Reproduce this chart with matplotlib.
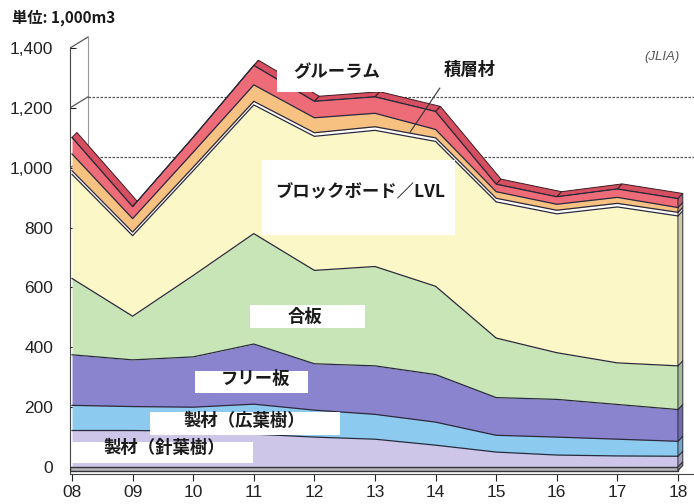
import numpy as np
import matplotlib.pyplot as plt
import matplotlib.colors as mcolors
from matplotlib.patches import Polygon, Rectangle

plt.rcParams['font.family'] = ['Liberation Sans', 'DejaVu Sans']
JP = ['Noto Sans CJK JP', 'DejaVu Sans']

# data (1,000 m3), bottom layer first
years = ['08', '09', '10', '11', '12', '13', '14', '15', '16', '17', '18']
softwood = [122, 122, 120, 110, 100, 93, 73, 50, 40, 37, 36]      # 製材(針葉樹)
hardwood = [84, 80, 80, 100, 90, 83, 77, 56, 60, 56, 50]          # 製材(広葉樹)
free_board = [169, 156, 168, 201, 155, 162, 159, 126, 126, 116, 106]
plywood = [255, 146, 272, 369, 312, 332, 295, 199, 156, 139, 146]
lvl = [348, 269, 350, 430, 448, 455, 484, 455, 464, 521, 501]
white_band = [12, 12, 12, 12, 12, 12, 12, 12, 12, 12, 12]
laminated = [56, 45, 50, 55, 50, 45, 28, 22, 20, 20, 16]          # 積層材
glulam = [55, 40, 50, 65, 55, 55, 60, 25, 25, 28, 30]             # グルーラム
yticks = [0, 200, 400, 600, 800, 1000, 1200, 1400]
grid_levels = [1000, 1200]

layers = [softwood, hardwood, free_board, plywood, lvl, white_band, laminated, glulam]
colors = ['#cdc6e9', '#8ccbef', '#8a84cf', '#c7e5b7', '#fbf7c6', '#ffffff', '#f6c181', '#ee6b78']

x = np.arange(len(years))
stack = np.cumsum(np.vstack(layers), axis=0)
base = np.vstack([np.zeros(len(x)), stack[:-1]])

fig = plt.figure(figsize=(6.94, 5.04), dpi=100)
ax = fig.add_axes([0.1009, 0.0603, 0.899, 0.880])
x0, x1 = -0.033, 10.264
ax.set_xlim(x0, x1)
ax.set_ylim(-22, 1460)

# offsets for the pseudo 3D look
dx, dy = 0.08, 17          # depth of the area block
wall_dx, wall_dy = 0.264, 37   # back wall

# back wall and dashed gridlines
ax.plot([x0, wall_dx], [1400, 1400 + wall_dy], color='#555', lw=0.9, zorder=1)
ax.plot([wall_dx, wall_dx], [wall_dy, 1400 + wall_dy], color='#999', lw=0.8, zorder=1)
for v in grid_levels:
    ax.plot([x0, wall_dx], [v, v + wall_dy], color='#555', lw=0.9, zorder=1)
    ax.plot([wall_dx, x1], [v + wall_dy, v + wall_dy], color='#555', lw=0.9,
            ls=(0, (2, 1.2)), zorder=1)

# top face of the stack
top = stack[-1]
for j in range(len(x) - 1):
    pts = [(x[j], top[j]), (x[j + 1], top[j + 1]),
           (x[j + 1] + dx, top[j + 1] + dy), (x[j] + dx, top[j] + dy)]
    ax.add_patch(Polygon(pts, closed=True, fc='#d64f60', ec='#3a1c22', lw=0.7, zorder=2))

# front faces
for lo, hi, c in zip(base, stack, colors):
    ax.fill_between(x, lo, hi, color=c, lw=0, zorder=3)
for t in stack:
    ax.plot(x, t, color='#2a2a3c', lw=0.9, zorder=4)

# right side face
xe = x[-1]
for lo, hi, c in zip(base[:, -1], stack[:, -1], colors):
    side = np.array(mcolors.to_rgb(c)) * 0.82
    pts = [(xe, lo), (xe, hi), (xe + dx, hi + dy), (xe + dx, lo + dy)]
    ax.add_patch(Polygon(pts, closed=True, fc=side, ec='#2a2a3c', lw=0.7, zorder=3))

# floor slab
ax.add_patch(Rectangle((x0, -12), xe - x0, 12, fc='#b5b4bf', ec='#333', lw=1.0, zorder=3))
ax.add_patch(Polygon([(xe, -12), (xe, 0), (xe + dx, dy), (xe + dx, dy - 12)], closed=True,
                     fc='#8f8e99', ec='#333', lw=0.8, zorder=3))

# axes styling
for s in ['top', 'right']:
    ax.spines[s].set_visible(False)
ax.spines['left'].set_bounds(-22, 1400)
ax.spines['left'].set_color('#444')
ax.spines['bottom'].set_color('#444')
ax.set_xticks(x)
ax.set_xticklabels(years)
ax.set_yticks(yticks)
ax.set_yticklabels([f'{v:,}' for v in yticks])
ax.tick_params(axis='x', direction='out', length=5, pad=3, labelsize=12.5, colors='#222')
ax.tick_params(axis='y', direction='in', length=4, pad=12, labelsize=12.5, colors='#222')

# series labels on white boxes
labels = [
    ('グルーラム', 4.37, 1318, (3.38, 1253, 1.95, 100)),
    ('ブロックボード／LVL', 4.75, 919, (3.14, 775, 3.18, 250)),
    ('合板', 3.84, 503, (2.94, 465, 1.89, 76)),
    ('フリー板', 3.02, 294, (2.03, 247, 1.86, 74)),
    ('製材（広葉樹）', 2.85, 155, (1.29, 107, 3.13, 77)),
    ('製材（針葉樹）', 1.53, 65, (0.0, 13, 2.99, 71)),
]
for text, tx, ty, (bx, by, bw, bh) in labels:
    ax.add_patch(Rectangle((bx, by), bw, bh, fc='white', ec='none', zorder=5))
    ax.text(tx, ty, text, family=JP, weight='bold', fontsize=12.5, color='#1a1a1a',
            ha='center', va='center', zorder=6)

ax.text(6.57, 1326, '積層材', family=JP, weight='bold', fontsize=12.5, color='#1a1a1a',
        ha='center', va='center', zorder=6)
ax.plot([6.07, 5.58], [1266, 1119], color='#333', lw=0.8, zorder=6)

fig.text(12 / 694, 1 - 18 / 504, '単位: 1,000m3', family=JP, weight='bold', fontsize=11,
         ha='left', va='center', color='#1a1a1a')
fig.text(662 / 694, 1 - 57 / 504, '(JLIA)', style='italic', fontsize=9.5, color='#555',
         ha='center', va='center')

fig.savefig('out.png', dpi=100)
